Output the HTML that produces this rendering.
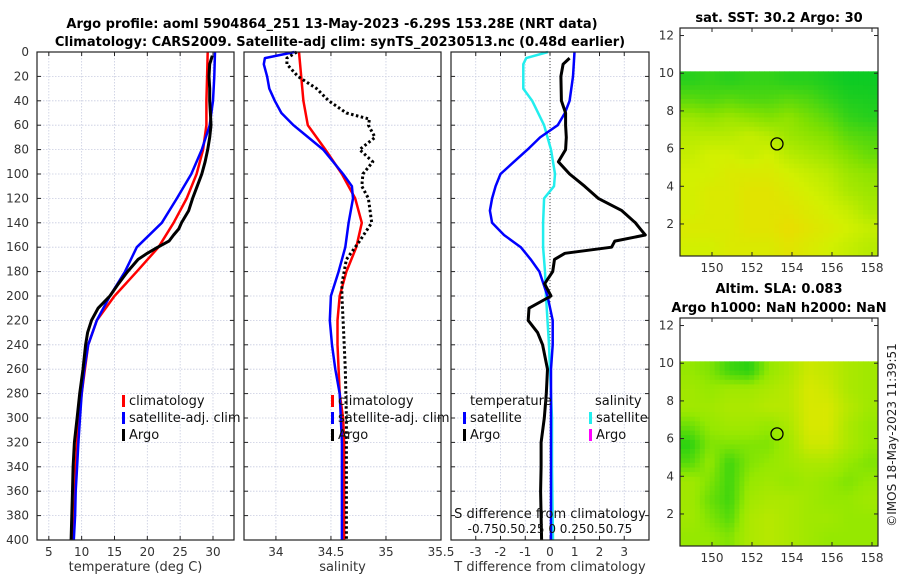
<!DOCTYPE html>
<html><head><meta charset="utf-8"><style>
body{margin:0;background:#fff}
svg{display:block;font-family:"DejaVu Sans","Liberation Sans",sans-serif}
</style></head><body>
<svg id="fig" width="900" height="580" xmlns="http://www.w3.org/2000/svg">
<text x="332" y="28" text-anchor="middle" font-size="13" font-weight="bold">Argo profile: aoml 5904864_251 13-May-2023 -6.29S 153.28E (NRT data)</text>
<text x="340" y="46" text-anchor="middle" font-size="13" font-weight="bold">Climatology: CARS2009. Satellite-adj clim: synTS_20230513.nc (0.48d earlier)</text>
<text x="779" y="22" text-anchor="middle" font-size="13" font-weight="bold">sat. SST: 30.2 Argo: 30</text>
<text x="779" y="293" text-anchor="middle" font-size="13" font-weight="bold">Altim. SLA: 0.083</text>
<text x="779" y="312" text-anchor="middle" font-size="13" font-weight="bold">Argo h1000: NaN h2000: NaN</text>
<text transform="translate(896,435) rotate(-90)" text-anchor="middle" font-size="12" fill="#222">©IMOS 18-May-2023 11:39:51</text>
</svg>
<script>
const depthsClim=[0,20,40,60,80,100,120,140,160,180,200,220,240,260,280,300,320,340,360,380,400];
const tClim=[29.2,29.1,29.0,29.0,28.5,27.5,26.0,24.0,21.7,18.4,15.0,12.3,11.0,10.5,10.0,9.6,9.3,9.1,9.0,8.9,8.7];
const tSat=[30.3,30.2,30.0,29.5,28.3,26.7,24.5,22.2,18.4,16.6,14.3,12.3,11.0,10.4,10.0,9.75,9.5,9.3,9.1,9.0,8.8];
const depthsArgo=[3,10,20,30,40,50,60,70,80,90,100,110,120,130,140,145,150,155,160,165,170,180,190,200,210,220,230,240,260,280,300,320,340,360,380,400];
const tArgo=[29.9,29.5,29.4,29.5,29.5,29.6,29.7,29.5,29.2,28.8,28.3,27.6,26.9,26.3,25.2,24.8,24.0,23.3,21.6,20.0,18.6,17.0,15.6,14.3,12.5,11.5,10.9,10.6,10.2,9.7,9.3,8.9,8.7,8.6,8.5,8.4];
const sClim=[34.21,34.23,34.25,34.29,34.45,34.60,34.72,34.78,34.73,34.64,34.58,34.56,34.56,34.57,34.58,34.61,34.62,34.62,34.62,34.62,34.62];
const depthsSat=[0,5,10,20,30,40,50,60,80,100,110,120,140,160,180,200,220,240,260,280,300,320,340,360,380,400];
const sSat=[34.17,33.90,33.89,33.92,33.94,33.99,34.05,34.16,34.43,34.61,34.69,34.70,34.66,34.63,34.57,34.50,34.49,34.51,34.54,34.58,34.59,34.60,34.60,34.60,34.60,34.60];
const depthsSArgo=[0,5,10,20,30,40,50,55,60,70,80,90,100,110,120,140,155,170,190,200,220,260,300,340,400];
const sArgo=[34.19,34.10,34.10,34.20,34.37,34.48,34.64,34.85,34.84,34.90,34.76,34.88,34.79,34.78,34.84,34.87,34.76,34.64,34.60,34.60,34.61,34.63,34.64,34.64,34.64];
const depthsDiff=[5,10,20,40,50,60,70,80,90,100,110,120,130,140,145,150,155,160,165,170,180,190,200,210,220,230,240,260,280,300,320,340,360,380,400];
const dtArgo=[0.79,0.53,0.44,0.46,0.63,0.63,0.66,0.63,0.34,0.79,1.4,1.95,2.9,3.45,3.65,3.85,2.62,2.49,0.6,0.18,0.11,-0.22,0.04,-0.85,-0.88,-0.5,-0.3,-0.1,-0.15,-0.23,-0.36,-0.36,-0.38,-0.36,-0.34];
const depthsDtSat=[0,20,40,50,60,70,80,90,100,110,120,130,140,150,160,170,180,200,220,240,260,300,340,400];
const dtSat=[0.99,0.93,0.79,0.6,0.31,-0.4,-0.91,-1.46,-2.0,-2.2,-2.34,-2.43,-2.34,-1.86,-1.18,-0.78,-0.43,-0.1,0.11,0.11,0.04,0.04,0.04,0.04];
const depthsDsSat=[0,5,10,20,30,40,60,80,100,110,120,140,160,180,200,240,260,300,340,400];
const dsSat=[-0.02,-0.24,-0.27,-0.27,-0.27,-0.18,-0.06,0.01,0.05,0.04,-0.06,-0.07,-0.07,-0.05,-0.04,-0.01,0.0,0.02,0.02,0.03];
const depthTicks=[0,20,40,60,80,100,120,140,160,180,200,220,240,260,280,300,320,340,360,380,400];
const tTicks=[5,10,15,20,25,30];
const sTicks=[34,34.5,35,35.5];
const sTickLabels=["34","34.5","35","35.5"];
const dTicks=[-3,-2,-1,0,1,2,3];
const sstGrid=[
[0.15,0.2,0.15,0.2,0.2,0.15,0.15,0.1,0.05,0.05],
[0.35,0.3,0.35,0.3,0.3,0.35,0.3,0.2,0.12,0.1],
[0.6,0.55,0.6,0.55,0.5,0.55,0.45,0.35,0.2,0.15],
[0.7,0.7,0.7,0.75,0.7,0.6,0.55,0.5,0.35,0.3],
[0.75,0.8,0.8,0.75,0.8,0.7,0.65,0.6,0.5,0.4],
[0.8,0.8,0.85,0.85,0.85,0.8,0.75,0.7,0.6,0.55],
[0.8,0.85,0.85,0.9,0.9,0.85,0.8,0.75,0.65,0.6],
[0.8,0.85,0.85,0.9,0.9,0.9,0.85,0.8,0.75,0.65],
[0.85,0.85,0.85,0.9,0.9,0.95,0.9,0.85,0.8,0.75],
[0.8,0.8,0.85,0.85,0.85,0.9,0.85,0.8,0.75,0.7]];
const slaGrid=[
[0.5,0.45,0.3,0.25,0.5,0.6,0.75,0.7,0.6,0.55],
[0.55,0.5,0.55,0.55,0.6,0.65,0.8,0.75,0.6,0.55],
[0.55,0.55,0.6,0.6,0.65,0.65,0.8,0.8,0.65,0.55],
[0.4,0.5,0.55,0.55,0.5,0.6,0.8,0.8,0.6,0.5],
[0.25,0.45,0.45,0.45,0.45,0.55,0.75,0.75,0.6,0.5],
[0.35,0.5,0.3,0.45,0.5,0.55,0.6,0.6,0.5,0.45],
[0.55,0.45,0.3,0.5,0.55,0.5,0.55,0.5,0.45,0.5],
[0.55,0.4,0.3,0.55,0.6,0.6,0.55,0.5,0.5,0.55],
[0.55,0.45,0.35,0.6,0.65,0.6,0.55,0.55,0.5,0.5],
[0.5,0.5,0.45,0.6,0.65,0.6,0.55,0.5,0.5,0.5]];
const lonTicks=[150,152,154,156,158];
const latTicks=[2,4,6,8,10,12];
const argoLon=153.25, argoLat=6.25;

const NS='http://www.w3.org/2000/svg';
const svg=document.getElementById('fig');
function el(tag,attrs,parent){const e=document.createElementNS(NS,tag);for(const k in attrs)e.setAttribute(k,attrs[k]);(parent||svg).appendChild(e);return e;}
const Y0=52,Y1=540;
const yD=d=>Y0+(d/400)*(Y1-Y0);

function panel(name,x0,x1,xmin,xmax,ticks,labels,xtitle){
  const g=el('g',{});
  
  
  const sx=v=>x0+(v-xmin)/(xmax-xmin)*(x1-x0);
  depthTicks.forEach(d=>{
    const l=el('line',{x1:x0,x2:x1,y1:yD(d),y2:yD(d),stroke:'#c8cce0','stroke-width':0.8,'stroke-dasharray':'1.5,1.5'},g);
    
    
    el('line',{x1:x0,x2:x0+4,y1:yD(d),y2:yD(d),stroke:'#222'},g);
    el('line',{x1:x1-4,x2:x1,y1:yD(d),y2:yD(d),stroke:'#222'},g);
  });
  ticks.forEach((t,i)=>{
    const x=sx(t);
    if(x>x0+1&&x<x1-1){const l=el('line',{x1:x,x2:x,y1:Y0,y2:Y1,stroke:'#c8cce0','stroke-width':0.8,'stroke-dasharray':'1.5,1.5'},g);
    
    }
    el('line',{x1:x,x2:x,y1:Y1,y2:Y1-4,stroke:'#222'},g);
    el('line',{x1:x,x2:x,y1:Y0,y2:Y0+4,stroke:'#222'},g);
    const t2=el('text',{x:x,y:556,'text-anchor':'middle','font-size':12,fill:'#333'},g);
    t2.textContent=labels[i];
    
    
  });
  const tt=el('text',{x:(x0+x1)/2,y:571,'text-anchor':'middle','font-size':13,fill:'#333'},g);
  tt.textContent=xtitle;
  
  
  return {g,sx};
}
function line(g,sx,xs,ds,color,name,dash,w){
  const p=el('polyline',{points:xs.map((v,i)=>sx(v).toFixed(1)+','+yD(ds[i]).toFixed(1)).join(' '),fill:'none',stroke:color,'stroke-width':w||2.5,'stroke-linejoin':'round'},g);
  if(dash)p.setAttribute('stroke-dasharray',dash);
  
  
}
function frame(g,x0,x1){el('rect',{x:x0,y:Y0,width:x1-x0,height:Y1-Y0,fill:'none',stroke:'#222','stroke-width':1.2},g);}
function legend(g,x,y,items){
  items.forEach((it,i)=>{
    el('rect',{x:x,y:y+i*17-10,width:3,height:12,fill:it[1]},g);
    const t=el('text',{x:x+7,y:y+i*17,'font-size':13,fill:'#111'},g);
    t.textContent=it[0];
    
    
  });
}
depthTicks.forEach(d=>{const t=el('text',{x:29,y:yD(d)+4,'text-anchor':'end','font-size':12,fill:'#333'});t.textContent=d;
  
  });

let P=panel('temperature-panel',37,234,3.2,33.2,tTicks,tTicks.map(String),'temperature (deg C)');
line(P.g,P.sx,tClim,depthsClim,'#ff0000','climatology-temp-line');
line(P.g,P.sx,tSat,depthsClim,'#0000ff','satellite-temp-line');
line(P.g,P.sx,tArgo,depthsArgo,'#000','argo-temp-line',null,3);
frame(P.g,37,234);
legend(P.g,122,405,[['climatology','#ff0000'],['satellite-adj. clim','#0000ff'],['Argo','#000']]);

P=panel('salinity-panel',244,441,33.71,35.5,sTicks,sTickLabels,'salinity');
line(P.g,P.sx,sClim,depthsClim,'#ff0000','climatology-salinity-line');
line(P.g,P.sx,sSat,depthsSat,'#0000ff','satellite-salinity-line');
line(P.g,P.sx,sArgo,depthsSArgo,'#000','argo-salinity-line','2.5,2.5',3);
frame(P.g,244,441);
legend(P.g,331,405,[['climatology','#ff0000'],['satellite-adj. clim','#0000ff'],['Argo','#000']]);

P=panel('difference-panel',451,649,-4,4,dTicks,dTicks.map(String),'T difference from climatology');
el('line',{x1:P.sx(0),x2:P.sx(0),y1:Y0,y2:Y1,stroke:'#444','stroke-width':1,'stroke-dasharray':'1,2'},P.g);
line(P.g,P.sx,dsSat.map(v=>v*4),depthsDsSat,'#22eeee','satellite-salinity-diff-line');
line(P.g,P.sx,dtSat,depthsDtSat,'#0000ff','satellite-temp-diff-line');
line(P.g,P.sx,dtArgo,depthsDiff,'#000','argo-temp-diff-line',null,3);
frame(P.g,451,649);
let t=el('text',{x:470,y:405,'font-size':13,fill:'#111'},P.g);t.textContent='temperature';


t=el('text',{x:595,y:405,'font-size':13,fill:'#111'},P.g);t.textContent='salinity';


legend(P.g,463,422,[['satellite','#0000ff'],['Argo','#000']]);
legend(P.g,589,422,[['satellite','#22eeee'],['Argo','#ff00ff']]);
t=el('text',{x:550,y:518,'text-anchor':'middle','font-size':13,fill:'#111'},P.g);t.textContent='S difference from climatology';


t=el('text',{x:550,y:533,'text-anchor':'middle','font-size':12,fill:'#111'},P.g);t.textContent='-0.750.50.25 0  0.250.50.75';



function lerp(a,b,f){return a.map((v,i)=>Math.round(v+(b[i]-v)*f));}
function cmap(v,stops){for(let i=0;i<stops.length-1;i++){if(v<=stops[i+1][0]){const f=(v-stops[i][0])/(stops[i+1][0]-stops[i][0]);const c=lerp(stops[i][1],stops[i+1][1],Math.max(0,Math.min(1,f)));return 'rgb('+c.join(',')+')';}}const c=stops[stops.length-1][1];return 'rgb('+c.join(',')+')';}
const sstStops=[[0,[0,200,40]],[0.5,[130,225,0]],[0.8,[210,240,0]],[1,[240,215,0]]];
const slaStops=[[0.2,[20,205,20]],[0.5,[150,232,0]],[0.8,[215,232,0]],[1,[235,215,0]]];
function sample(grid,fr,fc){
  const nr=grid.length,nc=grid[0].length;
  const r=Math.max(0,Math.min(nr-1,fr-0.5)),c=Math.max(0,Math.min(nc-1,fc-0.5));
  const r0=Math.floor(r),c0=Math.floor(c),r1=Math.min(nr-1,r0+1),c1=Math.min(nc-1,c0+1);
  const a=r-r0,b=c-c0;
  return grid[r0][c0]*(1-a)*(1-b)+grid[r0][c1]*(1-a)*b+grid[r1][c0]*a*(1-b)+grid[r1][c1]*a*b;
}
function map(name,top,bottom,grid,stops,res){
  const g=el('g',{});
  
  
  const x0=680,x1=878,lonMin=148.4,lonMax=158.3,latMin=0.3,latMax=12.4;
  const sx=v=>x0+(v-lonMin)/(lonMax-lonMin)*(x1-x0);
  const sy=v=>bottom-(v-latMin)/(latMax-latMin)*(bottom-top);
  const nr=grid.length,nc=grid[0].length;
  const latTop=10.1;
  const yT=sy(latTop),yB=bottom,cw=(x1-x0)/res,ch=(yB-yT)/res;
  for(let r=0;r<res;r++)for(let c=0;c<res;c++){
    const v=sample(grid,(r+0.5)/res*nr,(c+0.5)/res*nc);
    const cell=el('rect',{x:(x0+c*cw).toFixed(2),y:(yT+r*ch).toFixed(2),width:(cw+0.4).toFixed(2),height:(ch+0.4).toFixed(2),fill:cmap(v,stops)},g);
    
    
  }
  const circ=el('circle',{cx:sx(argoLon),cy:sy(argoLat),r:6,fill:'none',stroke:'#000','stroke-width':1.3},g);
  
  
  el('rect',{x:x0,y:top,width:x1-x0,height:bottom-top,fill:'none',stroke:'#222','stroke-width':1.2},g);
  lonTicks.forEach(v=>{el('line',{x1:sx(v),x2:sx(v),y1:bottom,y2:bottom-4,stroke:'#222'},g);el('line',{x1:sx(v),x2:sx(v),y1:top,y2:top+4,stroke:'#222'},g);
    const tx=el('text',{x:sx(v),y:bottom+16,'text-anchor':'middle','font-size':12,fill:'#333'},g);tx.textContent=v;
    
    });
  latTicks.forEach(v=>{el('line',{x1:x0,x2:x0+4,y1:sy(v),y2:sy(v),stroke:'#222'},g);el('line',{x1:x1-4,x2:x1,y1:sy(v),y2:sy(v),stroke:'#222'},g);
    const tx=el('text',{x:x0-6,y:sy(v)+4,'text-anchor':'end','font-size':12,fill:'#333'},g);tx.textContent=v;
    
    });
}
map('sst-map',28,256,sstGrid,sstStops,40);
map('sla-map',318,546,slaGrid,slaStops,40);
</script>
</body></html>
